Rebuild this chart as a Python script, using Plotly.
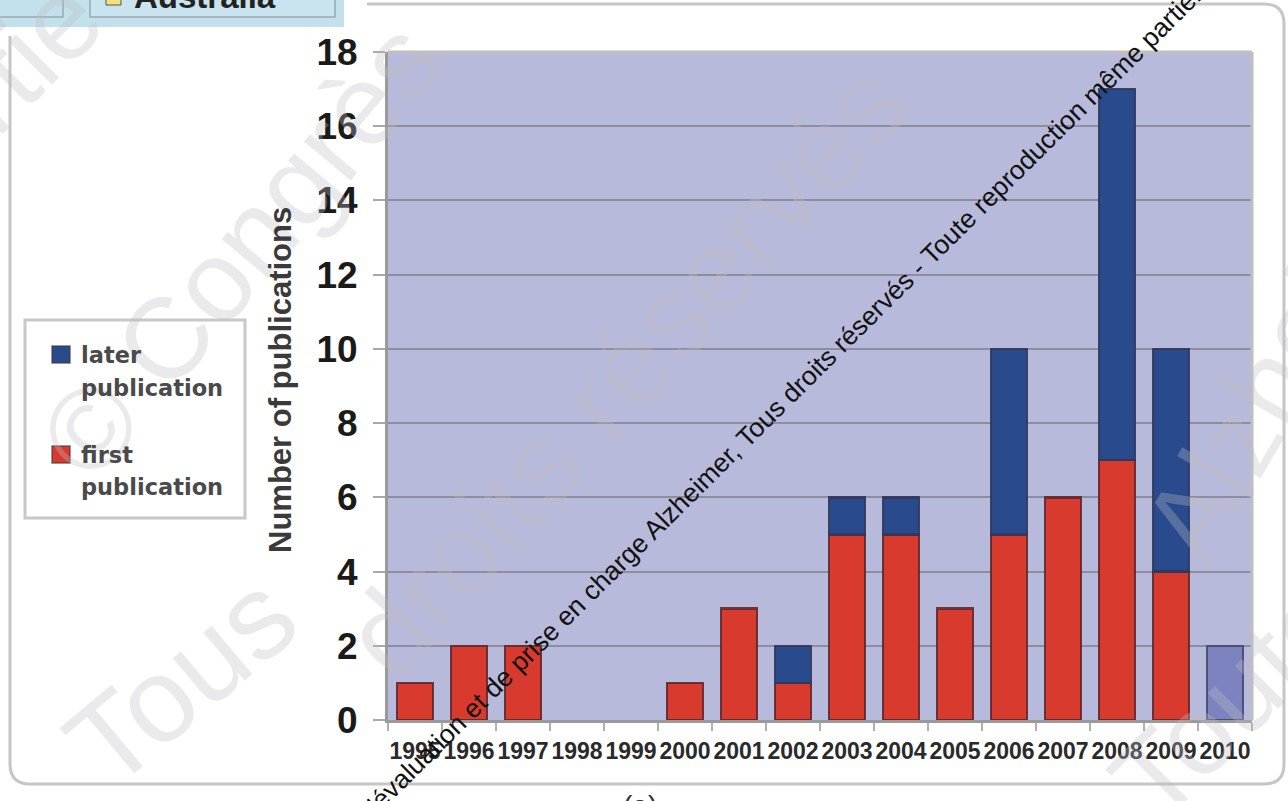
import plotly.graph_objects as go

# Publications per year, split by first vs later publication
years = ["1995", "1996", "1997", "1998", "1999", "2000", "2001", "2002",
         "2003", "2004", "2005", "2006", "2007", "2008", "2009", "2010"]
first_pub = [1, 2, 2, 0, 0, 1, 3, 1, 5, 5, 3, 5, 6, 7, 4, 0]
later_pub = [0, 0, 0, 0, 0, 0, 0, 1, 1, 1, 0, 5, 0, 10, 6, 0]
partial_2010 = [0, 0, 0, 0, 0, 0, 0, 0, 0, 0, 0, 0, 0, 0, 0, 2]

W, H = 1288, 801
PL, PR, PT, PB = 388, 1252, 52, 720


def px(x):
    return (x - PL) / (PR - PL)


def py(y):
    return (PB - y) / (PB - PT)


ARIAL = "Arial, Liberation Sans, sans-serif"
WIDE = "DejaVu Sans, Verdana, sans-serif"


def outline(values, color):
    # no outline on empty segments
    return dict(color=color, width=[2.5 if v else 0 for v in values])


fig = go.Figure()
fig.add_bar(x=years, y=first_pub, name="first publication",
            marker=dict(color="#d93a2e", line=outline(first_pub, "rgba(95,40,45,0.9)")))
fig.add_bar(x=years, y=later_pub, name="later publication",
            marker=dict(color="#2a4a8e", line=outline(later_pub, "rgba(50,55,90,0.9)")))
fig.add_bar(x=years, y=partial_2010, name="2010",
            marker=dict(color="#7d83be", line=outline(partial_2010, "rgba(70,72,110,0.9)")))

shapes = []
annotations = []

# faint background watermark lettering
wm_color = "rgba(190,190,195,0.32)"
for txt, cx, cy, ang, size in [
    ("partie", -20, 100, -45, 115),
    ("© Congrès", 240, 250, -50, 115),
    ("Tous", 180, 680, -40, 120),
    ("droits réservés", 625, 370, -48, 118),
    ("Alzheimer", 1300, 330, -60, 115),
    ("Toute", 1230, 700, -45, 115),
]:
    annotations.append(dict(text=txt, x=px(cx), y=py(cy), xref="paper", yref="paper",
                            xanchor="center", yanchor="middle",
                            showarrow=False, textangle=ang,
                            font=dict(family=ARIAL, size=size, color=wm_color)))


# outer rounded frame
def P(x, y):
    return f"{px(x)},{py(y)}"


frame = (f"M{P(367, 4)} L{P(1264, 4)} Q{P(1284, 4)} {P(1284, 24)} "
         f"L{P(1284, 764)} Q{P(1284, 784)} {P(1264, 784)} "
         f"L{P(30, 784)} Q{P(10, 784)} {P(10, 764)} L{P(10, 36)}")
shapes.append(dict(type="path", path=frame, xref="paper", yref="paper",
                   line=dict(color="#c6c6c6", width=3), layer="below"))

# top and right edges of the plotting area
shapes.append(dict(type="line", xref="paper", yref="paper", x0=0, x1=1, y0=1, y1=1,
                   line=dict(color="#bfbfbf", width=3)))
shapes.append(dict(type="line", xref="paper", yref="paper", x0=1, x1=1, y0=0, y1=1,
                   line=dict(color="#bfbfbf", width=3)))

# neighbouring panel strip at the top left
shapes.append(dict(type="rect", xref="paper", yref="paper",
                   x0=px(0), x1=px(344), y0=py(27), y1=py(-5),
                   fillcolor="#c3e1ec", line=dict(width=0)))
shapes.append(dict(type="rect", xref="paper", yref="paper",
                   x0=px(-10), x1=px(63), y0=py(17), y1=py(-10),
                   fillcolor="#c3e1ec", line=dict(color="#9aa9ae", width=1.5)))
shapes.append(dict(type="rect", xref="paper", yref="paper",
                   x0=px(90), x1=px(335), y0=py(17), y1=py(-10),
                   fillcolor="#c9e4ee", line=dict(color="#9aa9ae", width=1.5)))
shapes.append(dict(type="rect", xref="paper", yref="paper",
                   x0=px(106), x1=px(121), y0=py(5), y1=py(-10),
                   fillcolor="#f2e27a", line=dict(color="#555", width=1)))
annotations.append(dict(text="<b>Australia</b>", x=px(132), y=py(17), xref="paper", yref="paper",
                        xanchor="left", yanchor="bottom", showarrow=False,
                        font=dict(family=ARIAL, size=33, color="#222")))

# legend box
shapes.append(dict(type="rect", xref="paper", yref="paper",
                   x0=px(25), x1=px(245), y0=py(518), y1=py(320),
                   fillcolor="white", line=dict(color="#c8c8c8", width=3)))
for (y0, y1), col in [((346, 363), "#2a4a8e"), ((446, 463), "#d93a2e")]:
    shapes.append(dict(type="rect", xref="paper", yref="paper",
                       x0=px(52), x1=px(70), y0=py(y1), y1=py(y0),
                       fillcolor=col, line=dict(color="rgba(60,60,60,0.7)", width=1.5)))
for txt, yc in [("later", 355), ("publication", 388), ("first", 455), ("publication", 487)]:
    annotations.append(dict(text=f"<b>{txt}</b>", x=px(79), y=py(yc), xref="paper", yref="paper",
                            xanchor="left", yanchor="middle", showarrow=False,
                            font=dict(family=WIDE, size=22.5, color="#4a4a4a")))

# y-axis title
annotations.append(dict(text="<b>Number of publications</b>", x=px(280), y=py(380),
                        xref="paper", yref="paper", showarrow=False, textangle=-90,
                        xanchor="center", yanchor="middle",
                        font=dict(family=ARIAL, size=31, color="#3a3a3a")))

# caption below the panel
annotations.append(dict(text="(a)", x=px(640), y=py(788), xref="paper", yref="paper",
                        xanchor="center", yanchor="top", showarrow=False,
                        font=dict(family=ARIAL, size=28, color="#333")))

# diagonal copyright line
annotations.append(dict(
    text="d'évaluation et de prise en charge Alzheimer, Tous droits réservés - Toute reproduction même partielle",
    x=px(786), y=py(398), xref="paper", yref="paper", showarrow=False, textangle=-44.7,
    xanchor="center", yanchor="middle",
    font=dict(family=ARIAL, size=26.5, color="#111")))

fig.update_layout(
    width=W, height=H,
    margin=dict(l=PL, r=W - PR, t=PT, b=H - PB),
    paper_bgcolor="white",
    plot_bgcolor="#b8badb",
    barmode="stack",
    bargap=0.33,
    showlegend=False,
    shapes=shapes,
    annotations=annotations,
    xaxis=dict(
        type="category", tickson="boundaries", ticks="outside", ticklen=8,
        tickcolor="#b0b0b0", tickwidth=2, showline=True, linecolor="#9a9a9a",
        linewidth=3, showgrid=False, tickangle=0, ticklabelstandoff=8,
        tickfont=dict(family=ARIAL, size=23, color="#2a2a2a"),
        ticktext=[f"<b>{y}</b>" for y in years], tickvals=years,
    ),
    yaxis=dict(
        range=[0, 18], dtick=2, ticks="outside", ticklen=12, tickcolor="#a8a8a8",
        tickwidth=2, showline=True, linecolor="#9a9a9a", linewidth=3,
        gridcolor="#8d8d9d", gridwidth=2, zeroline=False,
        tickfont=dict(family=ARIAL, size=37, color="#1a1a1a"),
        tickprefix="<b>", ticksuffix="</b>", ticklabelstandoff=8,
    ),
)

fig.write_html("out.html")
